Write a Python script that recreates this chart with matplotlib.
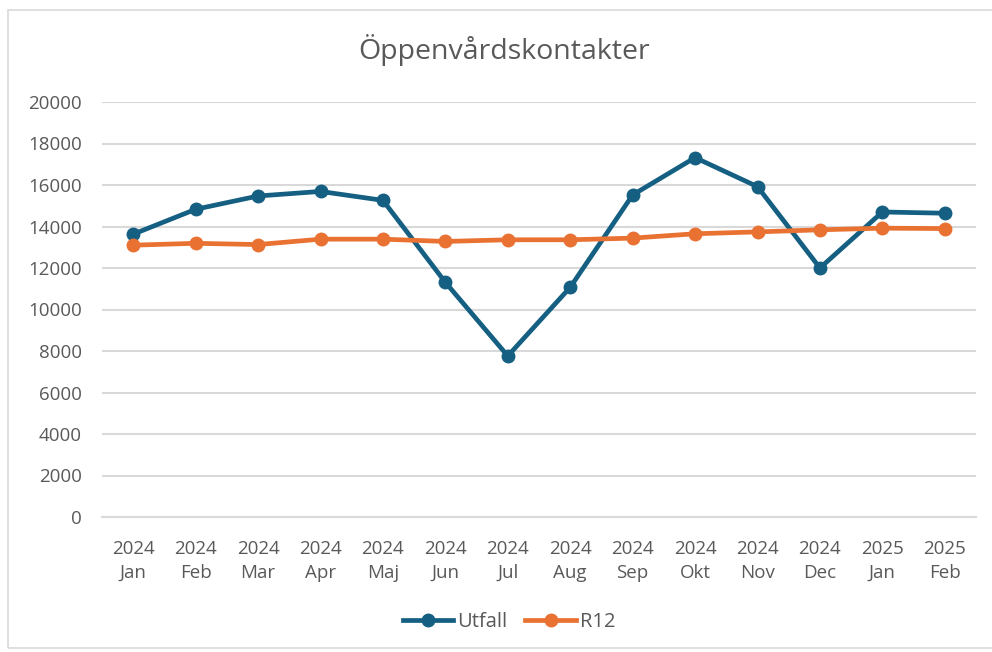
import matplotlib
matplotlib.use("Agg")
import matplotlib.pyplot as plt
from matplotlib.patches import Rectangle
from matplotlib.lines import Line2D

years = ["2024"] * 12 + ["2025"] * 2
months = ["Jan", "Feb", "Mar", "Apr", "Maj", "Jun", "Jul", "Aug", "Sep", "Okt", "Nov", "Dec", "Jan", "Feb"]
utfall = [13630, 14830, 15470, 15690, 15260, 11310, 7760, 11070, 15520, 17320, 15920, 12000, 14700, 14640]
r12 = [13100, 13190, 13130, 13390, 13390, 13280, 13360, 13360, 13440, 13650, 13740, 13840, 13920, 13900]
yticks = list(range(0, 20001, 2000))

plt.rcParams['font.family'] = ['Open Sans', 'DejaVu Sans']

fig = plt.figure(figsize=(9.92, 6.52), dpi=100)
ax = fig.add_axes([102/992, 135/652, 874/992, 415/652])

x = list(range(len(months)))
blue = "#156082"
orange = "#E97132"
ax.plot(x, utfall, color=blue, lw=3.4, marker="o", ms=9, label="Utfall", zorder=3, solid_capstyle="round")
ax.plot(x, r12, color=orange, lw=3.4, marker="o", ms=9, label="R12", zorder=3, solid_capstyle="round")

ax.set_xlim(-0.5, len(months) - 0.5)
ax.set_ylim(0, 20000)
ax.set_yticks(yticks)
ax.set_yticklabels([str(v) for v in yticks])
ax.set_xticks(x)
ax.set_xticklabels([f"{y}\n{m}" for y, m in zip(years, months)], linespacing=1.45)
ax.grid(axis="y", color="#D9D9D9", lw=1.5)
ax.set_axisbelow(True)
for s in ["top", "right", "left"]:
    ax.spines[s].set_visible(False)
ax.spines["bottom"].set_color("#D9D9D9")
ax.spines["bottom"].set_linewidth(1.5)
ax.tick_params(axis="both", length=0, labelsize=13.5, colors="#595959")
ax.tick_params(axis="y", pad=14.4)
ax.tick_params(axis="x", pad=16.5)

fig.text(504/992, 1 - 50/652, "Öppenvårdskontakter", ha="center", va="center", fontsize=20.5, color="#595959")

leg = fig.legend(handles=[Line2D([], [], color=blue, lw=3.4, marker="o", ms=9),
                          Line2D([], [], color=orange, lw=3.4, marker="o", ms=9)],
                 labels=["Utfall", "R12"], loc="center", bbox_to_anchor=(509/992, 1 - 622/652),
                 ncol=2, frameon=False, fontsize=14.5, handlelength=2.5, columnspacing=0.9,
                 handletextpad=0.2)
for t in leg.get_texts():
    t.set_color("#595959")

fig.patches.append(Rectangle((8/992, 4/652), 990/992, 638/652, transform=fig.transFigure,
                             fill=False, edgecolor="#D9D9D9", lw=1.2))

fig.savefig("out.png", dpi=100)
